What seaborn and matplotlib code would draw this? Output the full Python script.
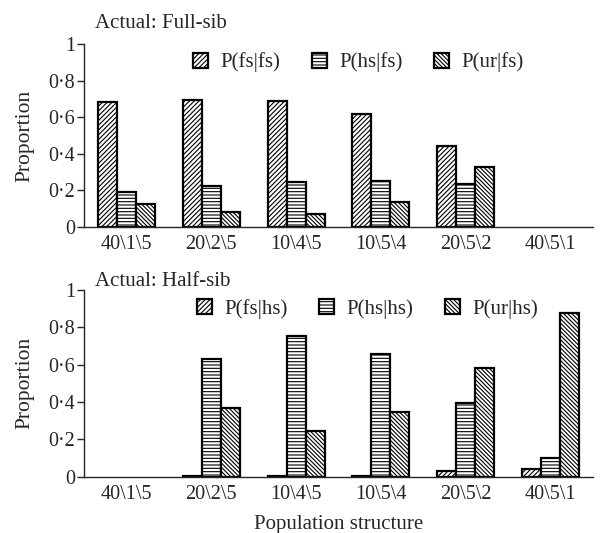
import numpy as np
import pandas as pd
import matplotlib
matplotlib.use('Agg')
import matplotlib.pyplot as plt
import seaborn as sns

# data
structures = ['40\\1\\5', '20\\2\\5', '10\\4\\5', '10\\5\\4', '20\\5\\2', '40\\5\\1']

fs_fs = [0.685, 0.693, 0.689, 0.620, 0.441, np.nan]
hs_fs = [0.192, 0.225, 0.243, 0.250, 0.236, np.nan]
ur_fs = [0.126, 0.082, 0.071, 0.134, 0.327, np.nan]

fs_hs = [np.nan, 0.003, 0.002, 0.003, 0.030, 0.040]
hs_hs = [np.nan, 0.628, 0.754, 0.655, 0.396, 0.098]
ur_hs = [np.nan, 0.369, 0.246, 0.348, 0.583, 0.877]

yticks = [0, 0.2, 0.4, 0.6, 0.8, 1]
ytick_labels = ['0', '0\u00b72', '0\u00b74', '0\u00b76', '0\u00b78', '1']

sns.set_style('ticks')
plt.rcParams['font.family'] = ['Liberation Serif', 'DejaVu Serif']
plt.rcParams['hatch.linewidth'] = 0.8
plt.rcParams['hatch.color'] = 'black'

hatches = ['///////', '-----', '\\\\\\\\\\\\\\\\']

fig = plt.figure(figsize=(6.02, 5.33), dpi=100)
ax1 = fig.add_axes([84/602, 1-226.7/533, 509/602, 182.4/533])
ax2 = fig.add_axes([84/602, 1-476.7/533, 509/602, 186.7/533])


def panel(ax, vals, names, title, title_y, leg_x):
    df = pd.DataFrame({'structure': structures * 3,
                       'value': vals[0] + vals[1] + vals[2],
                       'kind': [names[0]] * 6 + [names[1]] * 6 + [names[2]] * 6})
    sns.barplot(data=df, x='structure', y='value', hue='kind', ax=ax,
                palette=['white'] * 3, edgecolor='black', linewidth=1.6,
                width=0.67, saturation=1, legend=True)
    for cont, h in zip(ax.containers, hatches):
        for bar in cont:
            bar.set_hatch(h)
    ax.set_ylim(0, 1)
    ax.set_xlim(-0.5, 5.5)
    ax.set_yticks(yticks)
    ax.set_yticklabels(ytick_labels)
    ax.tick_params(axis='y', length=5, width=1, pad=1.5, labelsize=14.5)
    ax.tick_params(axis='x', length=0, pad=6, labelsize=14.5)
    ax.set_xlabel('')
    ax.set_ylabel('Proportion', fontsize=15.5)
    ax.yaxis.set_label_coords(-0.097, 0.5)
    sns.despine(ax=ax)
    ax.spines['left'].set_linewidth(1)
    ax.spines['bottom'].set_linewidth(1)
    handles, labels = ax.get_legend_handles_labels()
    for hd, h in zip(handles, hatches):
        hd.set_hatch(h)
    ax.legend(handles, labels, ncol=3, frameon=False, loc='center left',
              bbox_to_anchor=(leg_x, 0.9), borderaxespad=0, borderpad=0,
              handlelength=0.72, handleheight=0.72, handletextpad=0.6,
              columnspacing=1.5, fontsize=15)
    fig.text(95/602, 1-title_y/533, title, fontsize=15, va='baseline', ha='left')


panel(ax1, [fs_fs, hs_fs, ur_fs], ['P(fs|fs)', 'P(hs|fs)', 'P(ur|fs)'], 'Actual: Full-sib', 28, 0.214)
panel(ax2, [fs_hs, hs_hs, ur_hs], ['P(fs|hs)', 'P(hs|hs)', 'P(ur|hs)'], 'Actual: Half-sib', 286, 0.222)
ax2.set_xlabel('Population structure', fontsize=15, labelpad=8)

fig.savefig('out.png', dpi=100)
